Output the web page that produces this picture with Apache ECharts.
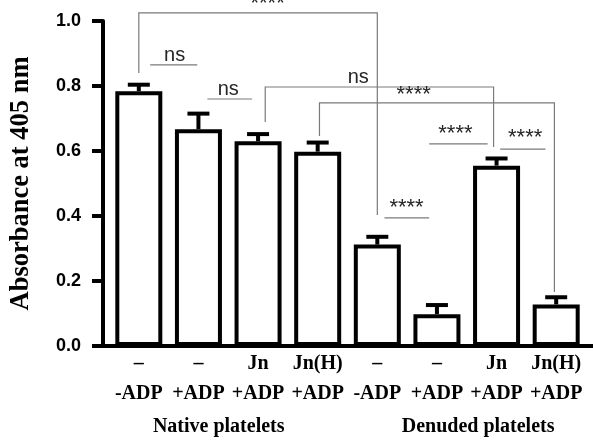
<!DOCTYPE html>
<html>
<head>
<meta charset="utf-8">
<script src="https://cdn.jsdelivr.net/npm/echarts@6/dist/echarts.min.js"></script>
<style>html,body{margin:0;padding:0;background:#fff;}#c{width:593px;height:440px;}</style>
</head>
<body>
<div id="c"></div>
<script>
// ---- data ----
const treatments = ['–', '–', 'Jn', 'Jn(H)', '–', '–', 'Jn', 'Jn(H)'];
const adp = ['-ADP', '+ADP', '+ADP', '+ADP', '-ADP', '+ADP', '+ADP', '+ADP'];
const means = [0.784, 0.667, 0.630, 0.598, 0.312, 0.098, 0.555, 0.128];
const errs = [0.020, 0.048, 0.022, 0.028, 0.024, 0.028, 0.022, 0.022];
const yTicks = [0.0, 0.2, 0.4, 0.6, 0.8, 1.0];
const groupNames = ['Native platelets', 'Denuded platelets'];
const groupPos = [1.34, 5.69];            // category units
const groupY = -0.250;                     // value units
// brackets: [x1, x2, yTop, yLeftEnd, yRightEnd, label, textX, textY]
const brackets = [
  [0.0, 4.0, 1.025, 0.840, 0.403, '****', 2.16, 1.052],
  [2.12, 5.95, 0.797, 0.689, 0.612, 'ns', 3.68, 0.825],
  [3.03, 6.97, 0.748, 0.646, 0.166, '****', 4.61, 0.772]
];
// pair lines: [x1, x2, y, label, textX, textY]
const pairs = [
  [0.19, 0.98, 0.865, 'ns', 0.60, 0.895],
  [1.15, 1.90, 0.760, 'ns', 1.50, 0.789],
  [4.12, 4.87, 0.394, '****', 4.49, 0.425],
  [4.87, 5.85, 0.622, '****', 5.31, 0.652],
  [6.06, 6.82, 0.606, '****', 6.48, 0.640]
];

const categories = treatments.map((t, i) => t + '\n' + adp[i]);

const chart = echarts.init(document.getElementById('c'), null, {renderer: 'canvas'});

function px(api, fx, v) {
  const a = api.coord([0, v]);
  const b = api.coord([1, v]);
  return [a[0] + (b[0] - a[0]) * fx, a[1]];
}
const LINE = '#7a7a7a';
const TXT = '#262626';
function tfont(label) {
  return label === 'ns'
    ? {fontSize: 20, fontFamily: 'Liberation Sans, Arial, sans-serif'}
    : {fontSize: 22, fontFamily: 'Liberation Sans, Arial, sans-serif'};
}

const option = {
  animation: false,
  grid: {left: 109, right: 7, top: 21, bottom: 94, containLabel: false, outerBoundsMode: 'none'},
  xAxis: {
    type: 'category',
    data: categories,
    axisLine: {show: true, lineStyle: {color: '#000', width: 4}},
    axisTick: {show: false},
    axisLabel: {
      interval: 0, color: '#000', fontFamily: 'Liberation Serif, Times New Roman, serif',
      fontWeight: 'bold', fontSize: 20, lineHeight: 30, margin: 3
    }
  },
  yAxis: {
    type: 'value', min: 0, max: 1, interval: 0.2, offset: 6,
    name: 'Absorbance at 405 nm', nameLocation: 'middle', nameGap: 68,
    nameTextStyle: {fontFamily: 'Liberation Serif, Times New Roman, serif', fontWeight: 'bold', fontSize: 26.5, color: '#000'},
    axisLine: {show: true, lineStyle: {color: '#000', width: 4}},
    axisTick: {show: true, length: 11, lineStyle: {color: '#000', width: 4}},
    splitLine: {show: false},
    axisLabel: {
      color: '#000', fontFamily: 'Liberation Sans, Arial, sans-serif', fontWeight: 'bold', fontSize: 18, margin: 22,
      formatter: v => yTicks.some(t => Math.abs(t - v) < 1e-9) ? v.toFixed(1) : ''
    }
  },
  series: [
    {
      type: 'bar', data: means, barWidth: 47, z: 2,
      itemStyle: {color: '#fff', borderColor: '#000', borderWidth: 4}
    },
    {
      type: 'custom', z: 3, clip: false,
      data: means.map((m, i) => [i, m, errs[i]]),
      renderItem: function (params, api) {
        const x = api.value(0), m = api.value(1), e = api.value(2);
        const base = api.coord([x, m]);
        const top = api.coord([x, m + e]);
        return {
          type: 'group', children: [
            {type: 'line', shape: {x1: base[0], y1: base[1], x2: top[0], y2: top[1]}, style: {stroke: '#000', lineWidth: 4}},
            {type: 'line', shape: {x1: top[0] - 11, y1: top[1], x2: top[0] + 11, y2: top[1]}, style: {stroke: '#000', lineWidth: 4}}
          ]
        };
      }
    },
    {
      type: 'custom', z: 4, clip: false,
      data: brackets.map((b, i) => [i, 0]),
      renderItem: function (params, api) {
        const b = brackets[api.value(0)];
        const p1 = px(api, b[0], b[3]), p2 = px(api, b[0], b[2]), p3 = px(api, b[1], b[2]), p4 = px(api, b[1], b[4]);
        const t = px(api, b[6], b[7]);
        return {
          type: 'group', children: [
            {type: 'polyline', shape: {points: [p1, p2, p3, p4]}, style: {stroke: LINE, lineWidth: 1.2, fill: null}},
            {type: 'text', style: Object.assign({text: b[5], x: t[0], y: t[1], align: 'center', verticalAlign: 'middle', fill: TXT}, tfont(b[5]))}
          ]
        };
      }
    },
    {
      type: 'custom', z: 4, clip: false,
      data: pairs.map((b, i) => [i, 0]),
      renderItem: function (params, api) {
        const b = pairs[api.value(0)];
        const p1 = px(api, b[0], b[2]), p2 = px(api, b[1], b[2]);
        const t = px(api, b[4], b[5]);
        return {
          type: 'group', children: [
            {type: 'line', shape: {x1: p1[0], y1: p1[1], x2: p2[0], y2: p2[1]}, style: {stroke: LINE, lineWidth: 1.2}},
            {type: 'text', style: Object.assign({text: b[3], x: t[0], y: t[1], align: 'center', verticalAlign: 'middle', fill: TXT}, tfont(b[3]))}
          ]
        };
      }
    },
    {
      type: 'custom', z: 1, clip: false,
      data: groupNames.map((g, i) => [i, 0]),
      renderItem: function (params, api) {
        const i = api.value(0);
        const t = px(api, groupPos[i], groupY);
        const children = [
          {type: 'text', style: {text: groupNames[i], x: t[0], y: t[1], align: 'center', verticalAlign: 'middle', fill: '#000',
            fontSize: 20, fontWeight: 'bold', fontFamily: 'Liberation Serif, Times New Roman, serif'}}
        ];
        if (i === 0) {
          const cs = params.coordSys;
          const y0 = api.coord([0, 0])[1];
          children.push({type: 'line', shape: {x1: cs.x - 6, y1: y0, x2: cs.x + cs.width + 7, y2: y0}, style: {stroke: '#000', lineWidth: 4}});
        }
        return {type: 'group', children: children};
      }
    }
  ]
};
chart.setOption(option);
</script>
</body>
</html>
